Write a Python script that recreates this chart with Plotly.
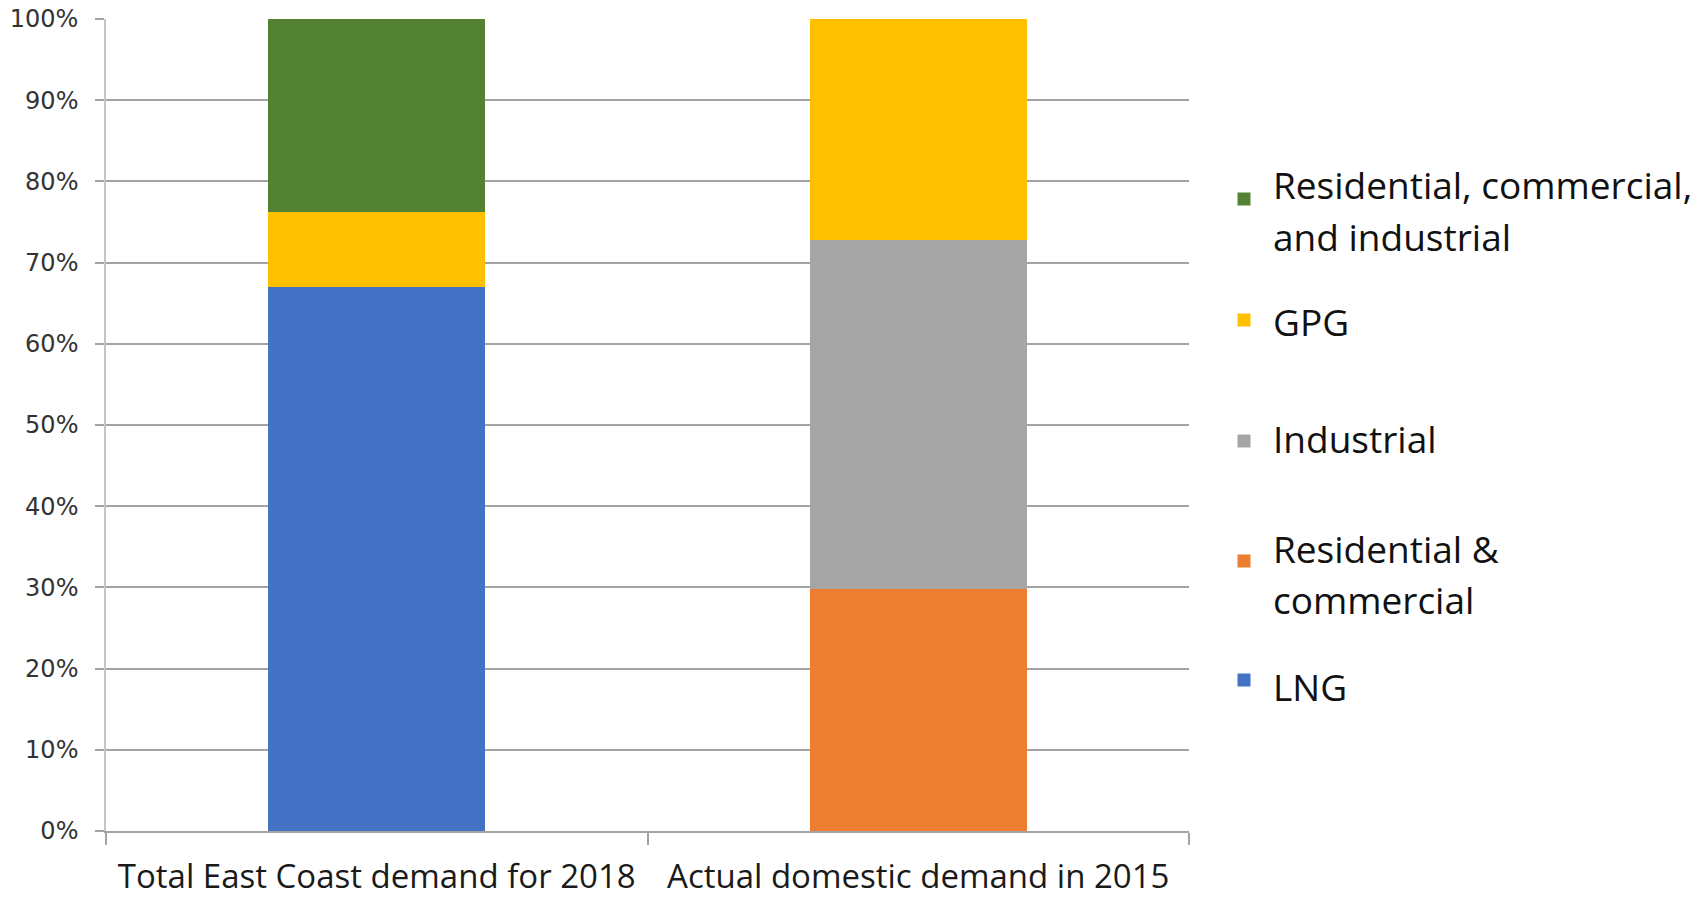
import plotly.graph_objects as go

# Demand categories (x axis)
categories = ["Total East Coast demand for 2018", "Actual domestic demand in 2015"]

# Share of demand (%) for each segment, one value per category
lng = [67.0, None]
res_com = [None, 29.8]
industrial = [None, 43.0]
gpg = [9.2, 27.2]
res_com_ind = [23.8, None]

series_names = ["LNG", "Residential & commercial", "Industrial", "GPG",
                "Residential, commercial, and industrial"]
series_values = [lng, res_com, industrial, gpg, res_com_ind]
series_colors = ["#4472C4", "#ED7D31", "#A5A5A5", "#FFC000", "#548235"]

y_ticks = [0, 10, 20, 30, 40, 50, 60, 70, 80, 90, 100]
y_tick_text = [f"{v}%" for v in y_ticks]

# Legend entries, top to bottom, with their wrapped label lines
legend_order = [4, 3, 2, 1, 0]
legend_lines = {
    4: ["Residential, commercial,", "and industrial"],
    3: ["GPG"],
    2: ["Industrial"],
    1: ["Residential &", "commercial"],
    0: ["LNG"],
}

W, H = 1703, 898
M_L, M_R, M_T, M_B = 106, 514, 19, 67
PLOT_W = W - M_L - M_R
PLOT_H = H - M_T - M_B


def px_x(p):
    return (p - M_L) / PLOT_W


def px_y(p):
    return (H - M_B - p) / PLOT_H


fig = go.Figure()
for name, vals, col in zip(series_names, series_values, series_colors):
    fig.add_trace(go.Bar(x=categories, y=vals, name=name,
                         marker=dict(color=col, line=dict(width=0)),
                         showlegend=False))

GRID = "#a3a3a3"
fig.update_layout(
    width=W, height=H,
    margin=dict(l=M_L, r=M_R, t=M_T, b=M_B, pad=0, autoexpand=False),
    barmode="stack", bargap=0.6,
    plot_bgcolor="white", paper_bgcolor="white",
    xaxis=dict(
        type="category", automargin=False, tickangle=0,
        showline=True, linecolor=GRID, linewidth=1.5,
        ticks="outside", tickson="boundaries", ticklen=12, tickcolor=GRID,
        tickwidth=1.5, showgrid=False,
        tickfont=dict(family="Open Sans", size=33, color="#1a1a1a"),
        ticklabelstandoff=16,
    ),
    yaxis=dict(
        range=[0, 100], tickvals=y_ticks, ticktext=y_tick_text,
        automargin=False,
        showgrid=True, gridcolor=GRID, gridwidth=1.5, zeroline=False,
        showline=True, linecolor="#c4c4c4", linewidth=1.5,
        ticks="outside", ticklen=9, tickcolor=GRID, tickwidth=1.5,
        tickfont=dict(family="DejaVu Sans", size=24, color="#333333"),
        ticklabelstandoff=12,
    ),
)

# Legend drawn as swatches and text to the right of the plot
swatch_y = {4: 199, 3: 320, 2: 441, 1: 561, 0: 680}
text_y = {4: [184, 236], 3: [321], 2: [438], 1: [549, 599], 0: [686]}
SW_X, SW = 1244, 13
TEXT_X = 1271
for idx in legend_order:
    cy = swatch_y[idx]
    fig.add_shape(type="rect", xref="paper", yref="paper",
                  x0=px_x(SW_X - SW / 2), x1=px_x(SW_X + SW / 2),
                  y0=px_y(cy + SW / 2), y1=px_y(cy - SW / 2),
                  fillcolor=series_colors[idx], line=dict(width=0))
    for line, ly in zip(legend_lines[idx], text_y[idx]):
        fig.add_annotation(text=line, xref="paper", yref="paper",
                           x=px_x(TEXT_X), y=px_y(ly), xanchor="left",
                           yanchor="middle", showarrow=False,
                           font=dict(family="Open Sans", size=37,
                                     color="#111111"))

fig.write_html("out.html")
